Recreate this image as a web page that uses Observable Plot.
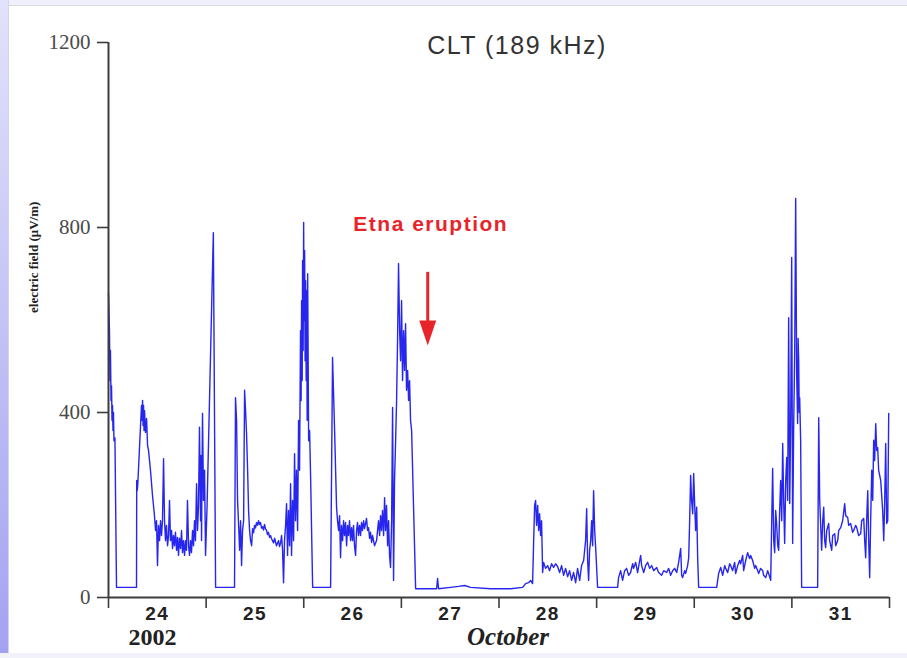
<!DOCTYPE html>
<html>
<head>
<meta charset="utf-8">
<script src="https://cdn.jsdelivr.net/npm/d3@7"></script>
<script src="https://cdn.jsdelivr.net/npm/@observablehq/plot@0.6"></script>
<style>
  html, body { margin: 0; padding: 0; background: #fff; width: 907px; height: 658px; overflow: hidden; }
  #chart { position: absolute; left: 0; top: 0; }
  .edge { position: absolute; pointer-events: none; }
</style>
</head>
<body>
<div id="chart"></div>
<div class="edge" style="left:0;top:0;width:907px;height:5px;background:#f0f0fb;border-bottom:1px solid #d9d9e6"></div>
<div class="edge" style="left:0;top:0;width:8px;height:658px;background:linear-gradient(#e2e2fb,#a3a2f1);border-right:1px solid #d4d4ea"></div>
<div class="edge" style="left:0;bottom:0;width:907px;height:5px;background:#f2f2fa"></div>
<script>
// Electric field of the CLT transmitter (189 kHz), 24–31 October 2002.
// Each point is [day of October (fractional), field in µV/m].
const day24 = [[24.000,657],[24.010,577],[24.015,469],[24.020,534],[24.026,426],[24.031,458],[24.036,383],[24.041,415],[24.046,361],[24.051,400],[24.056,339],[24.066,345],[24.082,22],
  [24.287,22],[24.289,253],[24.294,231],[24.300,245],[24.338,415],[24.344,383],[24.349,426],[24.354,372],[24.359,415],[24.364,361],[24.369,404],[24.379,357],[24.390,387],[24.400,329],[24.410,318],[24.430,275],[24.451,220],[24.471,177],[24.482,145],[24.492,166],[24.502,69],[24.512,156],[24.523,123],[24.533,166],[24.543,134],[24.553,166],[24.564,300],[24.574,166],[24.584,123],[24.594,156],[24.605,112],[24.615,134],[24.625,210],[24.635,123],[24.646,145],[24.656,106],[24.666,134],[24.676,112],[24.686,141],[24.697,102],[24.707,130],[24.717,91],[24.727,128],[24.738,106],[24.748,145],[24.758,97],[24.768,123],[24.779,91],[24.789,123],[24.799,102],[24.809,210],[24.820,112],[24.830,91],[24.840,123],[24.850,97],[24.861,145],[24.871,112],[24.881,166],[24.891,123],[24.902,246],[24.912,145],[24.922,199],[24.932,368],[24.943,166],[24.948,307],[24.953,123],[24.963,398],[24.973,210],[24.984,275],[24.994,91]];
const day25 = [[25.010,200],[25.074,789],[25.097,22],[25.291,22],[25.301,432],[25.312,383],[25.322,210],[25.332,160],[25.343,102],[25.353,166],[25.363,69],[25.373,145],[25.384,166],[25.394,448],[25.404,404],[25.414,355],[25.425,275],[25.435,188],[25.445,145],[25.455,123],[25.466,112],[25.476,149],[25.486,140],[25.496,156],[25.506,150],[25.516,162],[25.527,156],[25.537,166],[25.547,158],[25.557,162],[25.568,150],[25.578,153],[25.588,146],[25.598,158],[25.609,148],[25.619,145],[25.629,136],[25.639,141],[25.650,130],[25.660,134],[25.670,127],[25.680,123],[25.691,118],[25.701,128],[25.711,120],[25.721,112],[25.732,118],[25.742,123],[25.752,110],[25.762,117],[25.773,134],[25.783,102],[25.793,32],[25.803,123],[25.814,156],[25.824,203],[25.834,91],[25.844,188],[25.855,112],[25.865,246],[25.875,91],[25.885,210],[25.896,123],[25.906,311],[25.916,166],[25.926,275],[25.937,145],[25.947,383],[25.957,275],[25.967,577],[25.973,426],[25.978,642],[25.984,469],[25.988,729],[25.994,534],[25.999,811]];
const day26 = [[26.004,599],[26.009,750],[26.014,512],[26.019,685],[26.025,469],[26.030,664],[26.035,383],[26.040,700],[26.050,339],[26.060,361],[26.070,264],[26.091,22],[26.275,22],[26.295,519],[26.316,361],[26.336,195],[26.346,166],[26.357,145],[26.367,177],[26.377,86],[26.387,156],[26.398,123],[26.408,166],[26.418,134],[26.428,162],[26.439,112],[26.449,156],[26.459,134],[26.469,166],[26.480,123],[26.490,151],[26.500,123],[26.510,156],[26.520,112],[26.531,91],[26.541,145],[26.551,162],[26.561,134],[26.572,156],[26.582,134],[26.592,162],[26.602,145],[26.613,166],[26.623,149],[26.643,171],[26.654,145],[26.664,151],[26.674,128],[26.684,141],[26.695,119],[26.705,134],[26.725,112],[26.746,123],[26.756,145],[26.766,166],[26.777,134],[26.787,177],[26.797,145],[26.807,188],[26.818,134],[26.828,216],[26.838,145],[26.848,199],[26.859,112],[26.869,166],[26.879,91],[26.889,65],[26.900,166],[26.910,411],[26.920,37],[26.930,253],[26.941,339],[26.951,426],[26.961,556],[26.971,722],[26.982,577],[26.992,512]];
const day27 = [[27.002,642],[27.012,469],[27.023,577],[27.033,491],[27.043,592],[27.053,448],[27.064,491],[27.074,426],[27.084,469],[27.094,383],[27.105,361],[27.146,19],[27.361,19],[27.371,41],[27.381,19],[27.504,22],[27.586,24],[27.648,26],[27.709,22],[27.914,19]];
const day28 = [[28.119,19],[28.242,22],[28.273,30],[28.303,32],[28.324,37],[28.344,30],[28.355,123],[28.365,199],[28.375,210],[28.385,156],[28.396,199],[28.406,145],[28.416,181],[28.426,134],[28.436,166],[28.447,54],[28.457,76],[28.477,63],[28.498,69],[28.518,58],[28.539,73],[28.559,65],[28.580,73],[28.600,67],[28.621,54],[28.641,69],[28.662,48],[28.682,63],[28.703,45],[28.723,58],[28.744,37],[28.764,54],[28.785,32],[28.805,63],[28.826,37],[28.846,69],[28.867,80],[28.887,123],[28.898,192],[28.908,80],[28.918,37],[28.928,102],[28.939,123],[28.949,166],[28.959,112],[28.969,231],[28.980,145],[28.990,108]];
const day29 = [[29.010,22],[29.215,22],[29.225,43],[29.246,58],[29.266,37],[29.287,58],[29.307,63],[29.328,48],[29.348,54],[29.369,73],[29.379,63],[29.400,76],[29.420,54],[29.441,80],[29.451,91],[29.461,69],[29.482,54],[29.502,69],[29.523,76],[29.543,63],[29.564,69],[29.584,58],[29.615,65],[29.635,54],[29.666,48],[29.687,58],[29.717,54],[29.738,63],[29.758,48],[29.779,58],[29.799,63],[29.820,54],[29.840,76],[29.861,106],[29.871,48],[29.881,43],[29.902,58],[29.912,52],[29.932,69],[29.943,86],[29.953,166],[29.963,264],[29.973,210],[29.984,181],[29.994,268]];
const day30 = [[30.004,203],[30.014,145],[30.025,195],[30.035,86],[30.045,22],[30.230,22],[30.250,52],[30.271,65],[30.291,48],[30.312,69],[30.322,63],[30.342,54],[30.363,73],[30.373,69],[30.393,58],[30.414,76],[30.424,52],[30.445,69],[30.465,80],[30.475,73],[30.496,91],[30.506,58],[30.527,80],[30.547,97],[30.568,84],[30.578,91],[30.598,80],[30.619,63],[30.629,69],[30.650,58],[30.660,52],[30.680,63],[30.701,58],[30.711,48],[30.732,43],[30.752,58],[30.762,52],[30.783,37],[30.803,279],[30.814,123],[30.824,97],[30.834,188],[30.844,160],[30.855,112],[30.865,102],[30.875,188],[30.885,253],[30.896,166],[30.906,333],[30.916,210],[30.926,117],[30.937,253],[30.947,303],[30.957,210],[30.967,605],[30.978,203],[30.988,383],[30.998,735]];
const day31 = [[31.008,117],[31.018,361],[31.029,534],[31.039,863],[31.049,484],[31.059,376],[31.064,560],[31.070,512],[31.075,400],[31.080,432],[31.090,339],[31.100,22],[31.264,22],[31.275,389],[31.285,210],[31.305,102],[31.316,166],[31.326,195],[31.336,123],[31.346,108],[31.357,145],[31.377,160],[31.387,123],[31.408,102],[31.418,134],[31.439,138],[31.449,112],[31.469,123],[31.480,145],[31.500,151],[31.520,166],[31.541,203],[31.551,177],[31.572,173],[31.582,156],[31.602,160],[31.623,141],[31.633,145],[31.654,156],[31.664,151],[31.684,134],[31.705,138],[31.715,166],[31.736,171],[31.746,123],[31.756,86],[31.766,166],[31.777,231],[31.787,123],[31.797,43],[31.807,166],[31.818,275],[31.828,210],[31.838,340],[31.848,296],[31.859,376],[31.869,318],[31.879,324],[31.889,275],[31.910,253],[31.930,188],[31.941,123],[31.951,210],[31.961,333],[31.971,160],[31.982,166],[31.992,398]];

// Axis ticks and labels
const yTicks = [0, 400, 800, 1200];
const dayEdges = [24, 25, 26, 27, 28, 29, 30, 31, 32];
const dayLabels = ["24", "25", "26", "27", "28", "29", "30", "31"];

// Text
const title = "CLT (189 kHz)";
const yLabel = "electric field (\u03bcV/m)";
const yearLabel = "2002";
const monthLabel = "October";

// Eruption marker: time (day of October) and the field levels at which the note and arrow sit
const eruption = {day: 27.27, label: "Etna eruption", labelLevel: 806, arrowTop: 703, arrowEnd: 592, headLevel: 572};

const series = [...day24, ...day25, ...day26, ...day27, ...day28, ...day29, ...day30, ...day31];
const dayMids = dayLabels.map(l => +l + 0.5);
const midLabel = new Map(dayMids.map((m, i) => [m, dayLabels[i]]));

const sans = "'Liberation Sans', Arial, Helvetica, sans-serif";
const serif = "'Liberation Serif', 'Times New Roman', serif";

// Filled arrowhead pointing down
const arrowHead = {
  draw(context, size) {
    const r = Math.sqrt(size / Math.PI);
    context.moveTo(-r, -1.47 * r);
    context.lineTo(r, -1.47 * r);
    context.lineTo(0, 1.47 * r);
    context.closePath();
  }
};

const svg = Plot.plot({
  width: 907,
  height: 658,
  marginLeft: 108,
  marginRight: 18,
  marginTop: 42,
  marginBottom: 61,
  x: {domain: [24, 32]},
  y: {domain: [0, 1200]},
  style: {background: "transparent", overflow: "visible"},
  marks: [
    Plot.line(series, {x: d => d[0], y: d => d[1], stroke: "#2626ee", strokeWidth: 1.4, strokeLinejoin: "round"}),
    Plot.ruleX([24], {y1: 0, y2: 1200, stroke: "#3c3c3c", strokeWidth: 2}),
    Plot.ruleY([0], {x1: 24, x2: 32, stroke: "#3c3c3c", strokeWidth: 2}),
    Plot.axisY({ticks: yTicks, tickSize: 11, tickPadding: 7, tickFormat: d => String(d), label: null,
      fontFamily: serif, fontSize: 21, stroke: "#3c3c3c", strokeWidth: 1.6, fill: "#4a4a4a"}),
    Plot.axisX({ticks: dayEdges, tickSize: 11, tickFormat: () => "", label: null, stroke: "#3c3c3c", strokeWidth: 1.6}),
    Plot.axisX({ticks: dayMids, tickSize: 0, tickPadding: 9, tickFormat: d => midLabel.get(d), label: null,
      fontFamily: sans, fontWeight: "bold", fontSize: 19, fill: "#222"}),
    Plot.text([yLabel], {text: d => d, frameAnchor: "left", dx: -75, dy: -7, rotate: -90,
      fontFamily: serif, fontWeight: "bold", fontSize: 13, fill: "#222"}),
    Plot.text([title], {text: d => d, frameAnchor: "top", dx: 18, dy: -6, textAnchor: "middle",
      fontFamily: sans, fontSize: 25, fill: "#333"}),
    Plot.text([yearLabel], {text: d => d, frameAnchor: "bottom-left", dx: 44, dy: 47, textAnchor: "middle",
      fontFamily: serif, fontWeight: "bold", fontSize: 24, fill: "#222"}),
    Plot.text([monthLabel], {text: d => d, frameAnchor: "bottom", dx: 9, dy: 47, textAnchor: "middle",
      fontFamily: serif, fontWeight: "bold", fontStyle: "italic", fontSize: 25, fill: "#222"}),
    Plot.text([eruption], {x: "day", y: "labelLevel", text: "label", dx: 3, textAnchor: "middle",
      fontFamily: sans, fontWeight: "bold", fontSize: 21, fill: "#e8242b"}),
    Plot.ruleX([eruption], {x: "day", y1: "arrowTop", y2: "arrowEnd", stroke: "#e8242b", strokeWidth: 3}),
    Plot.dot([eruption], {x: "day", y: "headLevel", r: 8.5, symbol: arrowHead, fill: "#e8242b", stroke: "none"})
  ]
});

// Slightly wider letter spacing on the heading texts and day labels
d3.select(svg).selectAll("text").each(function () {
  const t = this.textContent;
  if (t === title || t === eruption.label || dayLabels.includes(t)) d3.select(this).style("letter-spacing", "1.5px");
});

document.getElementById("chart").appendChild(svg);
</script>
</body>
</html>
